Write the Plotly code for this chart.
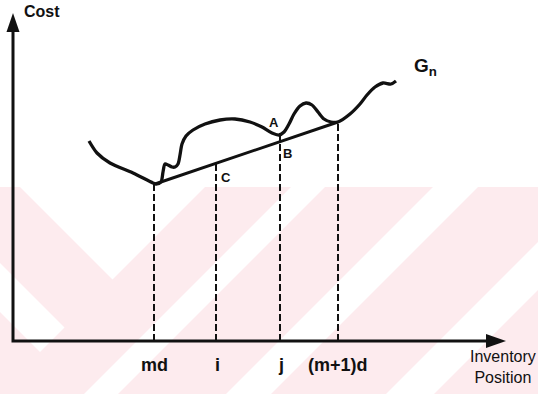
import numpy as np
import plotly.graph_objects as go

# ---------------- data (origin at the axes corner) ----------------
# cost function G_n (schematic curve)
curve_x = [76, 84, 97, 120, 140, 143, 148, 150, 152, 155, 159, 162, 165, 167, 169, 173,
           180, 192, 207, 222, 237, 249, 259, 266, 271, 276, 281, 287, 293, 299, 305,
           311, 318, 325, 337, 347, 354, 362, 370, 378, 383]
curve_y = [200, 188, 178, 168, 158, 157, 159, 169, 177, 176, 174, 174, 177, 186, 197, 205,
           211, 217, 221, 222, 219, 214, 208, 206, 209, 217, 227, 235, 238, 236, 229,
           222, 219, 219, 227, 237, 246, 254, 258, 257, 260]

# chord between md and (m+1)d
chord_x = [142, 325]
chord_y = [157, 219]

# x-axis marks
tick_x = [141, 203, 267, 325]
tick_labels = ["md", "i", "j", "(m+1)d"]

# point labels
point_labels = ["A", "B", "C"]
point_x = [261, 274, 213]
point_y = [219, 188, 164]

curve_label = "G<sub>n</sub>"
curve_label_x, curve_label_y = 412, 274

# ---------------- figure ----------------
W, H = 538, 394
XR = [-13, 525]
YR = [-53, 341]
x_end, y_end = 493, 328  # arrow tips

FONT = "Liberation Sans, Arial, Helvetica, sans-serif"
INK = "#111111"

fig = go.Figure()

# dashed verticals from axis to chord
tick_top = np.interp(tick_x, chord_x, chord_y)
for tx, ty in zip(tick_x, tick_top):
    fig.add_trace(go.Scatter(x=[tx, tx], y=[0, ty], mode="lines",
                             line=dict(color=INK, width=2, dash="7px,3px"),
                             hoverinfo="skip", showlegend=False))

# chord
fig.add_trace(go.Scatter(x=chord_x, y=chord_y, mode="lines",
                         line=dict(color=INK, width=3), hoverinfo="skip", showlegend=False))

# short segment between A and B at j
j_x = tick_x[2]
fig.add_trace(go.Scatter(x=[j_x, j_x], y=[np.interp(j_x, curve_x, curve_y), np.interp(j_x, chord_x, chord_y)],
                         mode="lines", line=dict(color=INK, width=2),
                         hoverinfo="skip", showlegend=False))

# curve
fig.add_trace(go.Scatter(x=curve_x, y=curve_y, mode="lines",
                         line=dict(color=INK, width=3.3, shape="spline", smoothing=0.8),
                         hoverinfo="skip", showlegend=False))

# axes lines
fig.add_trace(go.Scatter(x=[0, 0, x_end - 16], y=[y_end - 16, 0, 0], mode="lines",
                         line=dict(color=INK, width=3), hoverinfo="skip", showlegend=False))

shapes = []

# watermark (pale pink herringbone stripes) in paper coordinates
def P(px, py):
    return px / W, 1 - py / H

PINK = "#fdebee"
wm = []
wm.append(([(0, 187), (538, 187), (538, 394), (0, 394)], PINK))
wm.append(([(20, 187), (205, 187), (112.5, 279.5)], "white"))
wm.append(([(0, 263), (64.5, 327.5), (40, 352), (0, 312)], "white"))
wm.append(([(291, 187), (325, 187), (118, 394), (84, 394)], "white"))
wm.append(([(433, 187), (478, 187), (271, 394), (226, 394)], "white"))
wm.append(([(538, 242), (538, 290), (434, 394), (386, 394)], "white"))
for pts, col in wm:
    pp = [P(a, b) for a, b in pts]
    path = "M " + " L ".join(f"{a:.5f},{b:.5f}" for a, b in pp) + " Z"
    shapes.append(dict(type="path", path=path, xref="paper", yref="paper",
                       fillcolor=col, line=dict(width=0), layer="below"))

# arrow heads
shapes.append(dict(type="path", xref="x", yref="y",
                   path=f"M {-6.5},{y_end-19} L 0,{y_end} L {6.5},{y_end-19} Z",
                   fillcolor=INK, line=dict(width=0)))
shapes.append(dict(type="path", xref="x", yref="y",
                   path=f"M {x_end-20},{-7} L {x_end},0 L {x_end-20},{7} Z",
                   fillcolor=INK, line=dict(width=0)))

annotations = []
# axis titles
annotations.append(dict(x=9, y=330, text="<b>Cost</b>", xanchor="left", yanchor="middle",
                        showarrow=False, font=dict(family=FONT, size=16, color=INK)))
annotations.append(dict(x=490, y=-26, text="Inventory<br>Position", xanchor="center", yanchor="middle",
                        showarrow=False, font=dict(family=FONT, size=16, color=INK)))
# tick labels
for tx, lab in zip(tick_x, tick_labels):
    annotations.append(dict(x=tx + (1 if lab in ("i", "j") else 0), y=-24, text=f"<b>{lab}</b>",
                            xanchor="center", yanchor="middle", showarrow=False,
                            font=dict(family=FONT, size=18, color=INK)))
# point labels
for lab, px_, py_ in zip(point_labels, point_x, point_y):
    annotations.append(dict(x=px_, y=py_, text=f"<b>{lab}</b>", xanchor="center", yanchor="middle",
                            showarrow=False, font=dict(family=FONT, size=13, color=INK)))
# curve label
annotations.append(dict(x=curve_label_x, y=curve_label_y, text=f"<b>{curve_label}</b>",
                        xanchor="center", yanchor="middle", showarrow=False,
                        font=dict(family=FONT, size=19, color=INK)))

fig.update_layout(
    width=W, height=H,
    margin=dict(l=0, r=0, t=0, b=0),
    paper_bgcolor="white", plot_bgcolor="rgba(0,0,0,0)",
    xaxis=dict(range=XR, visible=False, fixedrange=True),
    yaxis=dict(range=YR, visible=False, fixedrange=True),
    shapes=shapes, annotations=annotations, showlegend=False,
)

fig.write_html("out.html",
               config={"displayModeBar": False},
               post_script="document.body.style.margin='0';document.body.style.overflow='hidden';")
